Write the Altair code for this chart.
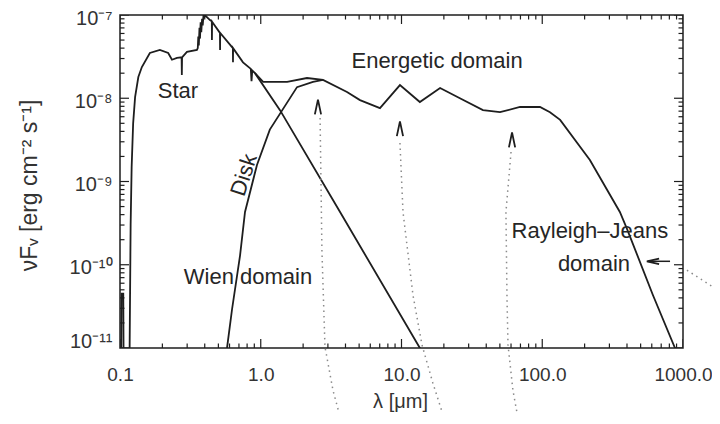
import altair as alt
import pandas as pd

# ---------------- data ----------------
star_lam = [0.1015, 0.102, 0.1025, 0.1055, 0.106, 0.117, 0.119, 0.121, 0.124, 0.128,
            0.135, 0.143, 0.163, 0.192, 0.22, 0.234, 0.254, 0.274, 0.275, 0.276,
            0.299, 0.352, 0.357, 0.36, 0.363, 0.367, 0.37, 0.374, 0.378, 0.383,
            0.387, 0.392, 0.396, 0.40, 0.436, 0.449, 0.45, 0.451, 0.513, 0.514,
            0.515, 0.634, 0.635, 0.636, 0.748, 0.85, 0.86, 0.87, 0.91, 1.37,
            3.66, 13.5, 14.5]
star_flux = [9e-12, 9e-12, 4.5e-11, 4.5e-11, 9e-12, 9e-12, 3e-10, 1.5e-9, 5e-9, 1.03e-8,
             1.8e-8, 2.37e-8, 3.5e-8, 3.8e-8, 3.5e-8, 2.9e-8, 3.05e-8, 3.1e-8, 1.9e-8, 3.1e-8,
             3.6e-8, 3.8e-8, 4.0e-8, 5.5e-8, 4.3e-8, 7e-8, 5.2e-8, 8.2e-8, 6.2e-8, 9e-8,
             7.5e-8, 1e-7, 9.2e-8, 1e-7, 8.7e-8, 8.4e-8, 5e-8, 8.3e-8, 6.1e-8, 3.8e-8,
             6.1e-8, 4e-8, 2.7e-8, 4e-8, 2.7e-8, 2.25e-8, 1.6e-8, 2.15e-8, 2.0e-8, 7.2e-9,
             4.3e-10, 1e-11, 8e-12]

disk_lam = [0.565, 0.576, 0.625, 0.713, 0.773, 0.94, 1.16, 1.81, 2.35, 2.77]
disk_flux = [8e-12, 1e-11, 2.9e-11, 1.3e-10, 4.3e-10, 1.58e-9, 4.2e-9, 1.36e-8, 1.57e-8, 1.66e-8]

total_lam = [0.91, 1.04, 1.54, 2.13, 2.77, 4.1, 5.07, 7.03, 9.75, 13.5, 18.8, 26.0,
             37.9, 50.1, 69.5, 96.4, 113.5, 134.0, 218.0, 356.0, 400.0, 612.0, 877.0, 920.0]
total_flux = [2.0e-8, 1.57e-8, 1.57e-8, 1.75e-8, 1.66e-8, 1.19e-8, 9.5e-9, 7.6e-9, 1.44e-8,
              9.0e-9, 1.33e-8, 1.0e-8, 7.2e-9, 6.8e-9, 7.85e-9, 7.85e-9, 6.8e-9, 5.5e-9,
              1.81e-9, 4.3e-10, 2.7e-10, 4.3e-11, 1.0e-11, 8e-12]

# dotted guide lines leading out of the panel
dot1_lam = [2.64, 2.72, 2.86, 3.26, 3.78]
dot1_flux = [5.8e-9, 1.5e-10, 1.03e-11, 3.1e-12, 1.22e-12]
dot2_lam = [9.75, 10.25, 12.07, 13.98, 16.7, 20.7]
dot2_flux = [2.9e-9, 4.3e-10, 4.3e-11, 1.09e-11, 3.8e-12, 1.22e-12]
dot3_lam = [60.0, 55.2, 56.2, 57.1, 61.9, 68.4]
dot3_flux = [2.26e-9, 4.3e-10, 3.8e-11, 1.09e-11, 3.1e-12, 1.22e-12]
dot4_lam = [1067.0, 1633.0, 2344.0]
dot4_flux = [8.6e-11, 5.4e-11, 4.1e-11]

arrow_up_lam = [2.55, 9.75, 61.0]
arrow_up_flux = [7.85e-9, 4.3e-9, 3.16e-9]
arrow_left_lam = [612.0]
arrow_left_flux = [1.1e-10]
shaft_lam = [564.0, 809.0]
shaft_flux = [1.1e-10, 1.1e-10]

note_text = ["Star", "Energetic domain", "Wien domain", "Rayleigh\u2013Jeans", "domain"]
note_lam = [0.258, 17.9, 0.812, 218.0, 233.0]
note_flux = [1.22e-8, 2.8e-8, 7.1e-11, 2.54e-10, 1.02e-10]
disk_note = ["Disk"]
disk_note_lam = [0.76]
disk_note_flux = [1.2e-9]

x_major = [0.1, 1.0, 10.0, 100.0, 1000.0]
x_labels = ["0.1", "1.0", "10.0", "100.0", "1000.0"]
y_major = [1e-11, 1e-10, 1e-9, 1e-8, 1e-7]
y_labels = ["10\u207b\u00b9\u00b9", "10\u207b\u00b9\u2070", "10\u207b\u2079", "10\u207b\u2078", "10\u207b\u2077"]

x_title = "\u03bb [\u03bcm]"
y_title = "\u03bdF\u1d65 [erg cm\u207b\u00b2 s\u207b\u00b9]"

# ---------------- tables ----------------
def table(lam, flux, key):
    return pd.DataFrame({"lam": lam, "flux": flux, "key": key, "i": range(len(lam))})

curves = pd.concat([table(star_lam, star_flux, "star"),
                    table(disk_lam, disk_flux, "disk"),
                    table(total_lam, total_flux, "total")])
dots = pd.concat([table(dot1_lam, dot1_flux, "d1"), table(dot2_lam, dot2_flux, "d2"),
                  table(dot3_lam, dot3_flux, "d3"), table(dot4_lam, dot4_flux, "d4")])
arrows_up = table(arrow_up_lam, arrow_up_flux, "a")
arrows_left = table(arrow_left_lam, arrow_left_flux, "l")
shaft = table(shaft_lam, shaft_flux, "s")
notes = pd.DataFrame({"lam": note_lam, "flux": note_flux, "text": note_text})
dnote = pd.DataFrame({"lam": disk_note_lam, "flux": disk_note_flux, "text": disk_note})

# tick marks (inward, on all four sides): length doubled and clipped to the frame
x_minor = [m * 10.0 ** e for e in range(-1, 3) for m in range(2, 10)]
y_minor = [m * 10.0 ** e for e in range(-11, -7) for m in range(2, 10)]
xt = pd.DataFrame({"lam": x_major + x_minor, "len": [18] * len(x_major) + [9] * len(x_minor)})
yt = pd.DataFrame({"flux": y_major + y_minor, "len": [18] * len(y_major) + [9] * len(y_minor)})

# ---------------- scales & axes ----------------
def label_expr(vals, labs):
    parts = [f"abs(datum.value - {v!r}) < {v * 1e-6!r} ? '{l}'" for v, l in zip(vals, labs)]
    return " : ".join(parts) + " : ''"

FONT = "Liberation Sans"
INK = "#1e1e1e"
W, H = 563, 333

xscale = alt.Scale(type="log", domain=[0.1, 1000], nice=False)
yscale = alt.Scale(type="log", domain=[1e-11, 1e-7], nice=False, zero=False)

x_bottom = alt.Axis(orient="bottom", values=x_major, labelExpr=label_expr(x_major, x_labels),
                    ticks=False, domain=False, grid=False, labelPadding=17, labelFont=FONT,
                    labelFontSize=19, labelColor="#333", labelFlush=False, title=x_title,
                    titleFont=FONT, titleFontSize=20, titleFontWeight="normal", titleColor="#333",
                    titleX=280, titleY=53, titleBaseline="middle")
y_left = alt.Axis(orient="left", values=y_major, labelExpr=label_expr(y_major, y_labels),
                  ticks=False, domain=False, grid=False, labelPadding=8, labelFont=FONT,
                  labelFontSize=20, labelColor="#333", labelFlush=False, labelBaseline="middle",
                  labelOffset={"expr": "datum.value < 2e-11 ? -7 : 3"},
                  title=y_title, titleFont=FONT, titleFontSize=23, titleFontWeight="normal",
                  titleColor="#333", titleAngle=270, titleX=-91, titleY=170,
                  titleAlign="center", titleBaseline="middle")

X = lambda axis=None: alt.X("lam:Q", scale=xscale, axis=axis)
Y = lambda axis=None: alt.Y("flux:Q", scale=yscale, axis=axis)

curve_layer = alt.Chart(curves).mark_line(color=INK, strokeWidth=1.8, clip=True).encode(
    x=X(x_bottom), y=Y(y_left), detail="key:N", order="i:Q")

tick_style = dict(clip=True, color=INK, thickness=1.2, opacity=1)
xb = alt.Chart(xt).mark_tick(**tick_style).encode(
    x=X(), y=alt.value(H), size=alt.Size("len:Q", scale=None))
xtop = alt.Chart(xt).mark_tick(**tick_style).encode(
    x=X(), y=alt.value(0), size=alt.Size("len:Q", scale=None))
yl = alt.Chart(yt).mark_tick(**tick_style).encode(
    y=Y(), x=alt.value(0), size=alt.Size("len:Q", scale=None))
yr = alt.Chart(yt).mark_tick(**tick_style).encode(
    y=Y(), x=alt.value(W), size=alt.Size("len:Q", scale=None))

dot_layer = alt.Chart(dots).mark_line(color="#8a8a8a", strokeWidth=1.5, strokeDash=[1.5, 4],
                                      clip=False).encode(x=X(), y=Y(), detail="key:N", order="i:Q")

up_layer = alt.Chart(arrows_up).mark_point(shape="M-0.42,1L0,-1L0.42,1", size=220, filled=False,
                                           color=INK, strokeWidth=1.8, opacity=1).encode(x=X(), y=Y())
left_layer = alt.Chart(arrows_left).mark_point(shape="M1,-0.45L-1,0L1,0.45", size=150, filled=False,
                                               color=INK, strokeWidth=1.8, opacity=1).encode(x=X(), y=Y())
shaft_layer = alt.Chart(shaft).mark_line(color=INK, strokeWidth=1.5).encode(x=X(), y=Y(), order="i:Q")

note_layer = alt.Chart(notes).mark_text(font=FONT, fontSize=22, color="#262626", align="center",
                                        baseline="middle").encode(x=X(), y=Y(), text="text:N")
disk_layer = alt.Chart(dnote).mark_text(font=FONT, fontSize=22, color="#262626", align="center",
                                        baseline="middle", angle=288).encode(x=X(), y=Y(), text="text:N")

chart = alt.layer(curve_layer, xb, xtop, yl, yr, dot_layer, up_layer, left_layer, shaft_layer,
                  note_layer, disk_layer).resolve_axis(x="independent", y="independent").properties(
    width=W, height=H,
    padding={"left": 112, "top": 7, "right": 29, "bottom": 64},
    autosize=alt.AutoSizeParams(type="none"),
    background="white",
).configure_view(stroke=INK, strokeWidth=1.5)

chart.save("out.html", embed_options={"renderer": "svg", "actions": False})
